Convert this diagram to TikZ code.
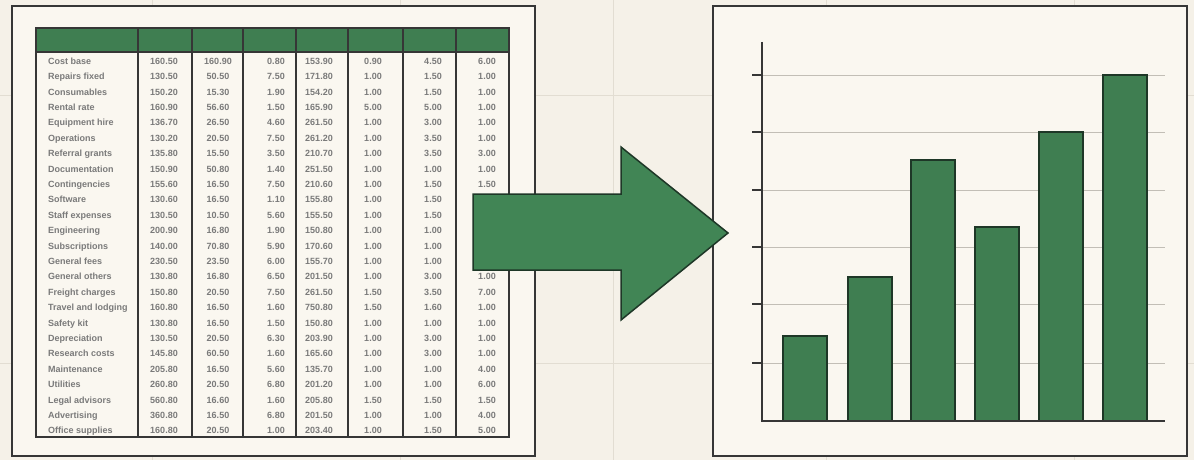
\documentclass[tikz,border=0pt]{standalone}
\usepackage{fontspec}
\setmainfont{Liberation Sans}
\definecolor{paper}{HTML}{F5F1E8}
\definecolor{sheet}{HTML}{FAF7F0}
\definecolor{leaf}{HTML}{3F7E51}
\definecolor{arrowleaf}{HTML}{418555}
\definecolor{darkleaf}{HTML}{1E3727}
\definecolor{ink}{HTML}{363636}
\definecolor{faint}{HTML}{E2DDD2}
\definecolor{rule}{HTML}{C2BEB6}
\definecolor{cellink}{HTML}{7A7A7A}
\begin{document}
\begin{tikzpicture}[x=1pt,y=-1pt,
  panel/.style={draw=ink,line width=2.5pt,fill=sheet},
  cell/.style={text=cellink,font=\fontsize{9}{9}\selectfont\bfseries,inner sep=0pt,
    text height=6.5pt,text depth=2pt},
  tablerule/.style={draw=ink,line width=1.4pt},
  bar/.style={draw=darkleaf,line width=1.5pt,fill=leaf},
  gridline/.style={draw=rule,line width=0.8pt}]
\fill[paper] (0,0) rectangle (1194,460);
\useasboundingbox (0,0) rectangle (1194,460);
\foreach \x in {152,400,613,826,1074}
    \draw[faint,line width=1pt] (\x,0) -- (\x,460);
\foreach \y in {95,363}
    \draw[faint,line width=1pt] (0,\y) -- (1194,\y);
\draw[panel] (12,6) rectangle (535,456);
\fill[leaf] (36,28) rectangle (509,52);
\foreach \name/\a/\b/\c/\d/\e/\f/\g [count=\r from 0] in {
    Cost base/160.50/160.90/0.80/153.90/0.90/4.50/6.00,
    Repairs fixed/130.50/50.50/7.50/171.80/1.00/1.50/1.00,
    Consumables/150.20/15.30/1.90/154.20/1.00/1.50/1.00,
    Rental rate/160.90/56.60/1.50/165.90/5.00/5.00/1.00,
    Equipment hire/136.70/26.50/4.60/261.50/1.00/3.00/1.00,
    Operations/130.20/20.50/7.50/261.20/1.00/3.50/1.00,
    Referral grants/135.80/15.50/3.50/210.70/1.00/3.50/3.00,
    Documentation/150.90/50.80/1.40/251.50/1.00/1.00/1.00,
    Contingencies/155.60/16.50/7.50/210.60/1.00/1.50/1.50,
    Software/130.60/16.50/1.10/155.80/1.00/1.50/1.00,
    Staff expenses/130.50/10.50/5.60/155.50/1.00/1.50/1.00,
    Engineering/200.90/16.80/1.90/150.80/1.00/1.00/1.00,
    Subscriptions/140.00/70.80/5.90/170.60/1.00/1.00/1.00,
    General fees/230.50/23.50/6.00/155.70/1.00/1.00/1.00,
    General others/130.80/16.80/6.50/201.50/1.00/3.00/1.00,
    Freight charges/150.80/20.50/7.50/261.50/1.50/3.50/7.00,
    Travel and lodging/160.80/16.50/1.60/750.80/1.50/1.60/1.00,
    Safety kit/130.80/16.50/1.50/150.80/1.00/1.00/1.00,
    Depreciation/130.50/20.50/6.30/203.90/1.00/3.00/1.00,
    Research costs/145.80/60.50/1.60/165.60/1.00/3.00/1.00,
    Maintenance/205.80/16.50/5.60/135.70/1.00/1.00/4.00,
    Utilities/260.80/20.50/6.80/201.20/1.00/1.00/6.00,
    Legal advisors/560.80/16.60/1.60/205.80/1.50/1.50/1.50,
    Advertising/360.80/16.50/6.80/201.50/1.00/1.00/4.00,
    Office supplies/160.80/20.50/1.00/203.40/1.00/1.50/5.00}
{
    \pgfmathsetmacro\ry{62+15.4*\r}
    \node[cell,anchor=west] (name\r) at (48,\ry) {\name};
    \node[cell] (a\r) at (164,\ry) {\a};
    \node[cell] (b\r) at (218,\ry) {\b};
    \node[cell] (c\r) at (276,\ry) {\c};
    \node[cell] (d\r) at (319,\ry) {\d};
    \node[cell] (e\r) at (373,\ry) {\e};
    \node[cell] (f\r) at (433,\ry) {\f};
    \node[cell] (g\r) at (487,\ry) {\g};
}
\foreach \x in {138,192,243,296,348,403,456}
    \draw[tablerule] (\x,28) -- (\x,437);
\draw[tablerule] (36,52) -- (509,52);
\draw[ink,line width=2pt] (36,28) rectangle (509,437);
\draw[panel] (713,6) rectangle (1187,456);
\foreach \y in {75,132,190,247,304,363}
{
    \draw[gridline] (762,\y) -- (1165,\y);
    \draw[ink,line width=1.5pt] (752,\y) -- (762,\y);
}
\foreach \x/\h in {783/336,848/277,911/160,975/227,1039/132,1103/75}
    \draw[bar] (\x,\h) rectangle (\x+44,421);
\draw[ink,line width=2pt] (762,42) -- (762,421) -- (1165,421);
\draw[darkleaf,line width=1.5pt,fill=arrowleaf] (473,194) -- (621,194) -- (621,147)
    -- (728,233) -- (621,320) -- (621,270) -- (473,270) -- cycle;
\end{tikzpicture}
\end{document}
